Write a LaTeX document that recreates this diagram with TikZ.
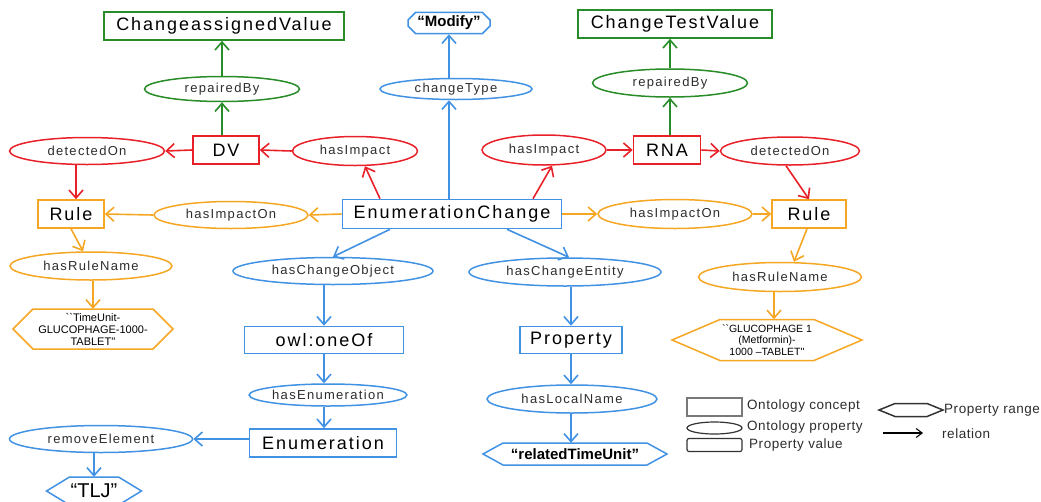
\documentclass[tikz,border=0pt]{standalone}
\usepackage{fontspec}
\setmainfont{Liberation Sans}
\usetikzlibrary{arrows.meta,shapes.geometric,shapes.misc}
\newfontfamily\boxfont[LetterSpace=11]{Liberation Sans}
\newfontfamily\ellfont[LetterSpace=10]{Liberation Sans}
\newfontfamily\legfont[LetterSpace=4]{Liberation Sans}
\definecolor{cgreen}{RGB}{40,140,40}
\definecolor{cred}{RGB}{232,32,40}
\definecolor{corange}{RGB}{245,166,35}
\definecolor{cblue}{RGB}{66,146,228}
\definecolor{ctext}{RGB}{45,45,45}
\definecolor{cgray}{RGB}{120,120,120}
\tikzset{
  concept/.style={draw=#1, line width=1.6pt, rectangle, inner sep=0pt, font=\boxfont\fontsize{18}{20}\selectfont, text=black},
  propov/.style={draw=#1, line width=1.5pt, ellipse, inner sep=0pt, font=\ellfont\fontsize{13}{15}\selectfont, text=ctext},
  rel/.style={draw=#1, line width=1.6pt, -{Straight Barb[length=8pt,width=14pt,line width=1.6pt]}},
  hexlabel/.style={inner sep=0pt, align=center},
  legtext/.style={anchor=west, inner sep=0pt, font=\legfont\fontsize{13.5}{15}\selectfont, text=ctext},
}
% hexagon outline: colour, cx, cy, half width, half height, tip length
\newcommand{\hexoutline}[6]{%
  \draw[#1, line width=1.5pt] (#2-#4,#3) -- (#2-#4+#6,#3-#5) -- (#2+#4-#6,#3-#5) -- (#2+#4,#3) -- (#2+#4-#6,#3+#5) -- (#2-#4+#6,#3+#5) -- cycle;}
\begin{document}
\begin{tikzpicture}[x=1pt,y=-1pt]
\path[use as bounding box] (0,0) rectangle (1041,501);
\clip (0,0) rectangle (1041,501);

% ---- concepts ----
\node[concept=cgreen, minimum width=240pt, minimum height=28pt] (ca) at (224,26) {ChangeassignedValue};
\node[concept=cgreen, minimum width=194pt, minimum height=28pt] (ctv) at (675,24) {ChangeTestValue};
\node[concept=cred, minimum width=66pt, minimum height=28pt] (dv) at (226,150) {DV};
\node[concept=cred, minimum width=67pt, minimum height=28pt] (rna) at (667,150) {RNA};
\node[concept=corange, minimum width=66pt, minimum height=28pt] (ruleL) at (71,214) {Rule};
\node[concept=corange, minimum width=74pt, minimum height=28pt] (ruleR) at (809,214) {Rule};
\node[concept=cblue, minimum width=219pt, minimum height=29pt] (ec) at (452,214) {EnumerationChange};
\node[concept=cblue, minimum width=159pt, minimum height=27pt] (oneof) at (324,340) {owl:oneOf};
\node[concept=cblue, minimum width=147pt, minimum height=28pt] (enum) at (323,443) {Enumeration};
\node[concept=cblue, minimum width=102pt, minimum height=27pt] (propy) at (571,340) {Property};

% ---- value (chamfered) ----
\node[draw=cblue, line width=1.5pt, chamfered rectangle, chamfered rectangle xsep=4pt, inner sep=0pt,
      minimum width=82pt, minimum height=21pt, font=\fontsize{15}{17}\selectfont\bfseries] (mod) at (449,23) {“Modify”};

% ---- properties ----
\node[propov=cgreen, minimum width=155pt, minimum height=25pt] (rbL) at (222,89) {repairedBy};
\node[propov=cgreen, minimum width=155pt, minimum height=28pt] (rbR) at (670,83) {repairedBy};
\node[propov=cred, minimum width=155pt, minimum height=27pt] (dL) at (87,151) {detectedOn};
\node[propov=cred, minimum width=125pt, minimum height=29pt] (hiL) at (355,151) {hasImpact};
\node[propov=cred, minimum width=124pt, minimum height=30pt] (hiR) at (544,150) {hasImpact};
\node[propov=cred, minimum width=139pt, minimum height=28pt] (dR) at (790,151) {detectedOn};
\node[propov=corange, minimum width=154pt, minimum height=27pt] (ioL) at (231,215) {hasImpactOn};
\node[propov=corange, minimum width=154pt, minimum height=29pt] (ioR) at (675,214) {hasImpactOn};
\node[propov=corange, minimum width=162pt, minimum height=28pt] (rnL) at (91,266) {hasRuleName};
\node[propov=corange, minimum width=163pt, minimum height=29pt] (rnR) at (780,277) {hasRuleName};
\node[propov=cblue, minimum width=152pt, minimum height=21pt] (ct) at (456,89) {changeType};
\node[propov=cblue, minimum width=200pt, minimum height=27pt] (hco) at (333,271) {hasChangeObject};
\node[propov=cblue, minimum width=152pt, minimum height=22pt] (hen) at (328,395) {hasEnumeration};
\node[propov=cblue, minimum width=183pt, minimum height=27pt] (re) at (101,439) {removeElement};
\node[propov=cblue, minimum width=192pt, minimum height=28pt] (hce) at (565,272) {hasChangeEntity};
\node[propov=cblue, minimum width=170pt, minimum height=28pt] (hln) at (572,399) {hasLocalName};

% ---- ranges (hexagons) ----
\hexoutline{corange}{93}{329}{80}{20}{20}
\node[hexlabel, minimum width=120pt, minimum height=40pt, font=\fontsize{11}{12}\selectfont] (tu) at (93,329)
  {\textasciigrave\textasciigrave TimeUnit-\\GLUCOPHAGE-1000-\\TABLET\textquotesingle\textquotesingle};
\hexoutline{corange}{767}{340}{95}{20.5}{48}
\node[hexlabel, minimum width=94pt, minimum height=41pt, font=\fontsize{10.5}{11.5}\selectfont] (gl) at (767,340)
  {\textasciigrave\textasciigrave GLUCOPHAGE 1\\(Metformin)-\\1000 –TABLET\textquotesingle\textquotesingle};
\hexoutline{cblue}{94}{491}{47.5}{14}{23}
\node[hexlabel, minimum width=49pt, minimum height=28pt, font=\fontsize{20}{22}\selectfont] (tlj) at (94,491) {“TLJ”};
\hexoutline{cblue}{575}{454}{92}{11}{20}
\node[hexlabel, minimum width=144pt, minimum height=22pt, font=\fontsize{15}{17}\selectfont\bfseries] (rtu) at (575,454) {“relatedTimeUnit”};

% ---- relations ----
\draw[rel=cgreen] (rbL |- dv.north) -- (rbL.south);
\draw[rel=cgreen] (rbL.north) -- (rbL |- ca.south);
\draw[rel=cred] (hiL.west) -- (dv.east);
\draw[rel=cred] (dv.west) -- (dL.east);
\draw[rel=cred] ([xshift=-11pt]dL.south) -- ([xshift=5pt]ruleL.north);
\draw[rel=cred] ([xshift=-72pt]ec.north) -- ([xshift=10pt]hiL.south);
\draw[rel=cred] ([xshift=81pt]ec.north) -- ([xshift=8pt]hiR.south);
\draw[rel=cred] (hiR.east) -- (rna.west);
\draw[rel=cred] (rna.east) -- (dR.west);
\draw[rel=cgreen] (rbR |- rna.north) -- (rbR.south);
\draw[rel=cgreen] (rbR.north) -- (rbR |- ctv.south);
\draw[rel=cred] ([xshift=-4pt]dR.south) -- (ruleR.north);
\draw[rel=corange] (ec.west) -- (ioL.east);
\draw[rel=corange] (ioL.west) -- (ruleL.east);
\draw[rel=corange] (ec.east) -- (ioR.west);
\draw[rel=corange] (ioR.east) -- (ruleR.west);
\draw[rel=corange] (ruleL.south) -- ([xshift=-8pt]rnL.north);
\draw[rel=corange] (tu |- rnL.south) -- (tu.north);
\draw[rel=corange] ([xshift=-2pt]ruleR.south) -- ([xshift=14pt]rnR.north);
\draw[rel=corange] ([xshift=-6pt]rnR.south) -- ([xshift=-6pt]rnR.south |- gl.north);
\draw[rel=cblue] (mod |- ec.north) -- (mod |- ct.south);
\draw[rel=cblue] (mod |- ct.north) -- (mod.south);
\draw[rel=cblue] ([xshift=-62pt]ec.south) -- (hco.north);
\draw[rel=cblue] (oneof |- hco.south) -- (oneof.north);
\draw[rel=cblue] (oneof.south) -- (oneof |- hen.north);
\draw[rel=cblue] (oneof |- hen.south) -- (oneof |- enum.north);
\draw[rel=cblue] (enum.west |- re) -- (re.east);
\draw[rel=cblue] (tlj |- re.south) -- (tlj.north);
\draw[rel=cblue] ([xshift=55pt]ec.south) -- ([xshift=4pt]hce.north);
\draw[rel=cblue] (propy |- hce.south) -- (propy.north);
\draw[rel=cblue] (propy.south) -- (propy |- hln.north);
\draw[rel=cblue] (propy |- hln.south) -- (propy |- rtu.north);

% ---- legend ----
\node[draw=cgray, line width=1.2pt, rectangle, minimum width=55pt, minimum height=18pt, inner sep=0pt] (lgc) at (714.5,407) {};
\node[draw=black!80, line width=1.2pt, ellipse, minimum width=55pt, minimum height=12pt, inner sep=0pt] (lgp) at (714.5,428) {};
\node[draw=black!80, line width=1.2pt, rectangle, rounded corners=2pt, minimum width=55pt, minimum height=13pt, inner sep=0pt] (lgv) at (714.5,445) {};
\node[legtext] (lgct) at (747,406) {Ontology concept};
\node[legtext] (lgpt) at (747,427) {Ontology property};
\node[legtext] (lgvt) at (749,445) {Property value};
\hexoutline{black!80}{911}{410}{32}{6.5}{16}
\node[inner sep=0pt, minimum width=32pt, minimum height=13pt] (lgr) at (911,410) {};
\node[legtext] (lgrt) at (944,410) {Property range};
\coordinate (lga) at (883,433);
\coordinate (lgb) at (923,433);
\draw[black, line width=1.1pt, -{Straight Barb[length=6pt,width=9pt,line width=1.1pt]}] (lga) -- (lgb);
\node[legtext] (lgat) at (942,434) {relation};
\end{tikzpicture}
\end{document}
